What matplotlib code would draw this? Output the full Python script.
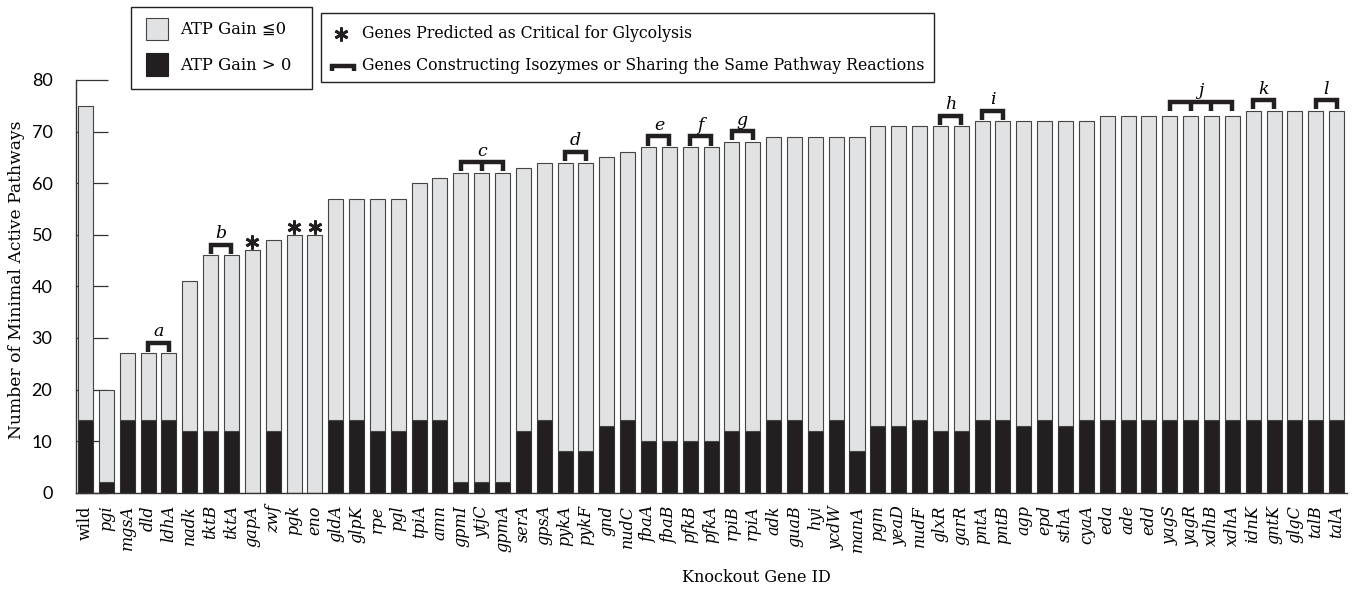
import numpy as np
import matplotlib
matplotlib.use("Agg")
import matplotlib.pyplot as plt
from matplotlib.patches import Rectangle

# ---- data -------------------------------------------------------------
genes = ["wild", "pgi", "mgsA", "dld", "ldhA", "nadk", "tktB", "tktA", "gapA",
         "zwf", "pgk", "eno", "gldA", "glpK", "rpe", "pgl", "tpiA", "amn",
         "gpmI", "ytjC", "gpmA", "serA", "gpsA", "pykA", "pykF", "gnd", "nudC",
         "fbaA", "fbaB", "pfkB", "pfkA", "rpiB", "rpiA", "adk", "guaB", "hyi",
         "ycdW", "manA", "pgm", "yeaD", "nudF", "glxR", "garR", "pntA", "pntB",
         "agp", "epd", "sthA", "cyaA", "eda", "ade", "edd", "yagS", "yagR",
         "xdhB", "xdhA", "idnK", "gntK", "glgC", "talB", "talA"]

total_paths = [75, 20, 27, 27, 27, 41, 46, 46, 47, 49, 50, 50, 57, 57, 57, 57,
               60, 61, 62, 62, 62, 63, 64, 64, 64, 65, 66, 67, 67, 67, 67, 68,
               68, 69, 69, 69, 69, 69, 71, 71, 71, 71, 71, 72, 72, 72, 72, 72,
               72, 73, 73, 73, 73, 73, 73, 73, 74, 74, 74, 74, 74]

atp_positive = [14, 2, 14, 14, 14, 12, 12, 12, 0, 12, 0, 0, 14, 14, 12, 12,
                14, 14, 2, 2, 2, 12, 14, 8, 8, 13, 14, 10, 10, 10, 10, 12,
                12, 14, 14, 12, 14, 8, 13, 13, 14, 12, 12, 14, 14, 13, 14, 13,
                14, 14, 14, 14, 14, 14, 14, 14, 14, 14, 14, 14, 14]

atp_nonpositive = [t - p for t, p in zip(total_paths, atp_positive)]

critical_genes = ["gapA", "pgk", "eno"]

isozyme_groups = [("a", ["dld", "ldhA"]),
                  ("b", ["tktB", "tktA"]),
                  ("c", ["gpmI", "ytjC", "gpmA"]),
                  ("d", ["pykA", "pykF"]),
                  ("e", ["fbaA", "fbaB"]),
                  ("f", ["pfkB", "pfkA"]),
                  ("g", ["rpiB", "rpiA"]),
                  ("h", ["glxR", "garR"]),
                  ("i", ["pntA", "pntB"]),
                  ("j", ["yagS", "yagR", "xdhB", "xdhA"]),
                  ("k", ["idnK", "gntK"]),
                  ("l", ["talB", "talA"])]

y_ticks = [0, 10, 20, 30, 40, 50, 60, 70, 80]

# ---- style ------------------------------------------------------------
GREY = "#e1e2e4"
BLACK = "#231f20"
EDGE = "#444444"
SERIF = ["DejaVu Serif", "DejaVu Sans"]
NUMFONT = "Lato"

W, H = 1354, 596
fig = plt.figure(figsize=(W / 100, H / 100), dpi=100)

ax = fig.add_axes([76 / W, 1 - 492.7 / H, (1347 - 76) / W, (492.7 - 80) / H])
x = np.arange(len(genes))
bar_w = 0.72

ax.bar(x, atp_positive, width=bar_w, color=BLACK, edgecolor="#333333",
       linewidth=0.8, zorder=2)
ax.bar(x, atp_nonpositive, bottom=atp_positive, width=bar_w, color=GREY,
       edgecolor=EDGE, linewidth=0.8, zorder=2)

ax.set_xlim(-0.456, 60.5)
ax.set_ylim(0, 80)
ax.set_axisbelow(True)
for side in ("top", "right"):
    ax.spines[side].set_visible(False)
for side in ("left", "bottom"):
    ax.spines[side].set_linewidth(1.0)
    ax.spines[side].set_color("#333333")

ax.set_yticks(y_ticks)
ax.set_yticklabels([str(v) for v in y_ticks], fontfamily=NUMFONT, fontsize=13)
ax.tick_params(axis="y", direction="in", length=23, width=0.9,
               color="#333333", pad=17)

ax.set_xticks(x)
ax.set_xticklabels(genes, rotation=90, fontfamily=SERIF, fontsize=11.5,
                   va="top", ha="center")
for lbl in ax.get_xticklabels():
    if lbl.get_text() != "wild":
        lbl.set_fontstyle("italic")
ax.tick_params(axis="x", length=0, pad=9)

# stars over genes critical for glycolysis
for g in critical_genes:
    i = genes.index(g)
    ax.plot(i, total_paths[i] + 1.6, marker=(6, 2, 0), markersize=10,
            markeredgewidth=2.0, color=BLACK, zorder=4, clip_on=False)

# brackets over isozyme groups
for letter, members in isozyme_groups:
    idx = [genes.index(m) for m in members]
    top_val = max(total_paths[i] for i in idx)
    lift = 1.0 if len(idx) > 3 else 0.3
    base = top_val + lift
    top = base + 1.75
    x0, x1 = idx[0], idx[-1]
    ax.plot([x0, x0, x1, x1], [base, top, top, base], color=BLACK,
            linewidth=3.2, solid_joinstyle="miter", solid_capstyle="butt",
            zorder=4, clip_on=False)
    for i in idx[1:-1]:
        ax.plot([i, i], [base, top], color=BLACK, linewidth=3.2,
                solid_capstyle="butt", zorder=4, clip_on=False)
    ax.text((x0 + x1) / 2, top + 1.3, letter, fontfamily=SERIF,
            fontstyle="italic", fontsize=12.5, ha="center", va="baseline",
            zorder=4)

# axis titles
fig.text(17 / W, 1 - 280 / H, "Number of Minimal Active Pathways",
         rotation=90, ha="center", va="center", fontfamily=SERIF,
         fontsize=12.3)
fig.text(756 / W, 1 - 578 / H, "Knockout Gene ID", ha="center",
         va="center", fontfamily=SERIF, fontsize=11.5)

# ---- legend boxes (pixel coordinates) ----------------------------------
lax = fig.add_axes([0, 0, 1, 1], zorder=5)
lax.set_xlim(0, W)
lax.set_ylim(H, 0)
lax.axis("off")

lax.add_patch(Rectangle((131.3, 7.3), 180.4, 82, fill=True, fc="white",
                        ec="#222222", lw=1.0))
lax.add_patch(Rectangle((145.7, 18.3), 22, 21.4, fc=GREY, ec=EDGE, lw=0.8))
lax.text(180, 29.5, "ATP Gain \u22660", fontfamily=SERIF, fontsize=11.8,
         va="center", ha="left")
lax.add_patch(Rectangle((145.7, 53), 22, 23, fc=BLACK, ec=BLACK, lw=0.8))
lax.text(180, 66, "ATP Gain > 0", fontfamily=SERIF, fontsize=11.8,
         va="center", ha="left")

lax.add_patch(Rectangle((321.3, 13.3), 612.7, 68.4, fill=True, fc="white",
                        ec="#222222", lw=1.0))
lax.plot(340.7, 33.5, marker=(6, 2, 0), markersize=10, markeredgewidth=2.0,
         color=BLACK)
lax.text(361.7, 33, "Genes Predicted as Critical for Glycolysis",
         fontfamily=SERIF, fontsize=11.3, va="center", ha="left")
lax.plot([332, 332, 353.7, 353.7], [70.5, 66, 66, 70.5], color=BLACK,
         linewidth=3.2, solid_joinstyle="miter", solid_capstyle="butt")
lax.text(361.7, 66,
         "Genes Constructing Isozymes or Sharing the Same Pathway Reactions",
         fontfamily=SERIF, fontsize=11.3, va="center", ha="left")

fig.savefig("out.png", dpi=100)
